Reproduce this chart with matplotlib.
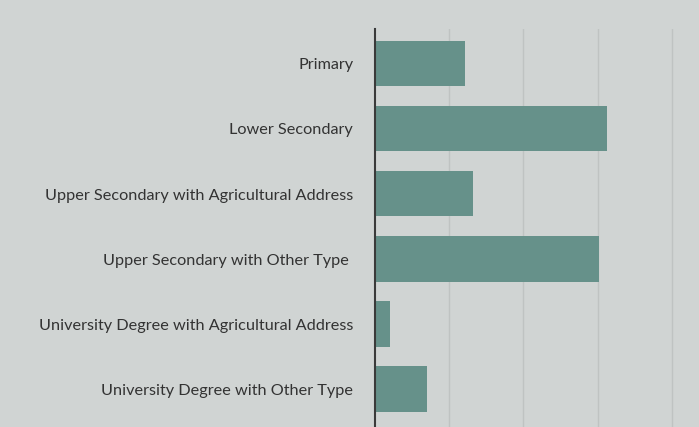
import matplotlib.pyplot as plt

# Dados do gráfico
categories = [
    "Primary",
    "Lower Secondary",
    "Upper Secondary with Agricultural Address",
    "Upper Secondary with Other Type ",
    "University Degree with Agricultural Address",
    "University Degree with Other Type",
]
values = [1.21, 3.12, 1.32, 3.01, 0.20, 0.70]

bg = "#d0d4d3"
bar_color = "#66918a"

plt.rcParams['font.family'] = ['Lato', 'DejaVu Sans']

fig = plt.figure(figsize=(6.99, 4.275), dpi=100, facecolor=bg)
ax = fig.add_axes([0.536, 0.0, 0.464, 0.93])
ax.set_facecolor(bg)

y = range(len(categories))
ax.barh(y, values, height=0.7, color=bar_color, zorder=3)

ax.set_ylim(5.58, -0.52)
ax.set_xlim(0, 4.36)
ax.set_yticks(list(y))
ax.set_yticklabels(categories, fontsize=11.7, color="#333333")
ax.set_xticks([1, 2, 3, 4])
ax.tick_params(axis='x', length=0, labelbottom=False)
ax.tick_params(axis='y', length=0, pad=15.5)
ax.grid(axis='x', color="#bfc3c2", linewidth=1, zorder=0)

for side in ['top', 'right', 'bottom']:
    ax.spines[side].set_visible(False)
ax.spines['left'].set_color("#3a3a3a")
ax.spines['left'].set_linewidth(1.5)
ax.spines['left'].set_zorder(4)

fig.savefig("out.png", dpi=100, facecolor=bg)
